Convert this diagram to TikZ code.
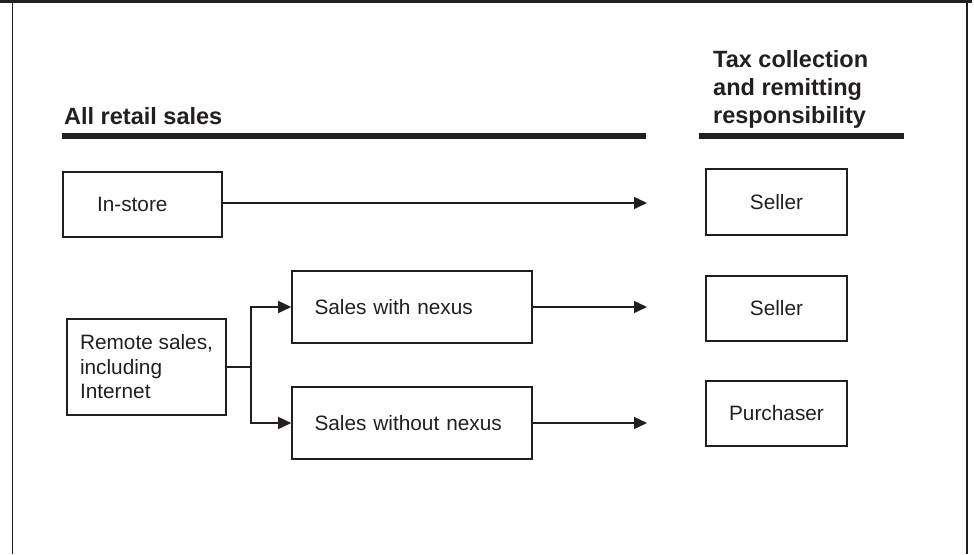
\documentclass[tikz,border=0pt]{standalone}
\usepackage{fontspec}
\setmainfont{Liberation Sans}
\usetikzlibrary{arrows.meta}
\definecolor{ink}{RGB}{35,31,32}
\tikzset{
  box/.style={draw=ink, line width=1.6pt, inner ysep=0pt, text=ink,
    font=\fontsize{20.8}{24.5}\selectfont},
  arr/.style={draw=ink, line width=1.5pt, -{Triangle[length=13pt,width=12pt]}},
  ln/.style={draw=ink, line width=1.5pt},
  head/.style={font=\bfseries\fontsize{23.5}{28}\selectfont, text=ink, inner sep=0pt, align=left},
  rulebar/.style={draw=ink, line width=6.5pt},
  frame/.style={draw=ink},
}
\begin{document}
\begin{tikzpicture}[x=1pt,y=-1pt]
\useasboundingbox (0,0) rectangle (974,554);
% frame
\draw[frame, line width=3pt] (0,1.5) -- (972,1.5);
\draw[frame, line width=1.6pt] (12.3,3) -- (12.3,554);
\draw[frame, line width=1.8pt] (967,3) -- (967,554);
% headings
\node[head, anchor=base west] (h1) at (64,124) {All retail sales};
\node[head, anchor=base west] (h2) at (713,123) {Tax collection\\and remitting\\responsibility};
\draw[rulebar] (62,136) -- (646,136);
\draw[rulebar] (699,136) -- (904,136);
% left column
\node[box, minimum height=65pt, text width=91pt, inner xsep=34pt, align=left] (instore) at (142.5,204.5) {In-store};
\node[box, minimum width=159pt, minimum height=96pt, inner xsep=0pt, align=left] (remote) at (146.5,367) {Remote sales,\\including\\Internet};
\node[box, minimum height=72pt, text width=195pt, inner xsep=22.5pt, align=left] (withnx) at (412,307) {Sales with nexus};
\node[box, minimum height=72pt, text width=195pt, inner xsep=22.5pt, align=left] (withoutnx) at (412,423) {Sales without nexus};
% right column
\node[box, minimum width=141pt, minimum height=66pt] (s1) at (776.5,202) {Seller};
\node[box, minimum width=141pt, minimum height=65pt] (s2) at (776.5,308.5) {Seller};
\node[box, minimum width=141pt, minimum height=65pt] (s3) at (776.5,413.5) {Purchaser};
% connectors
\coordinate (e1) at (647,203);
\coordinate (j) at (251,366);
\draw[arr] (instore.east |- e1) -- (e1);
\draw[arr] (withnx.east) -- (withnx.east -| e1);
\draw[arr] (withoutnx.east) -- (withoutnx.east -| e1);
\draw[ln] (remote.east) -- (remote.east -| j);
\draw[arr] (remote.east -| j) |- (withnx.west);
\draw[arr] (remote.east -| j) |- (withoutnx.west);
\end{tikzpicture}
\end{document}
